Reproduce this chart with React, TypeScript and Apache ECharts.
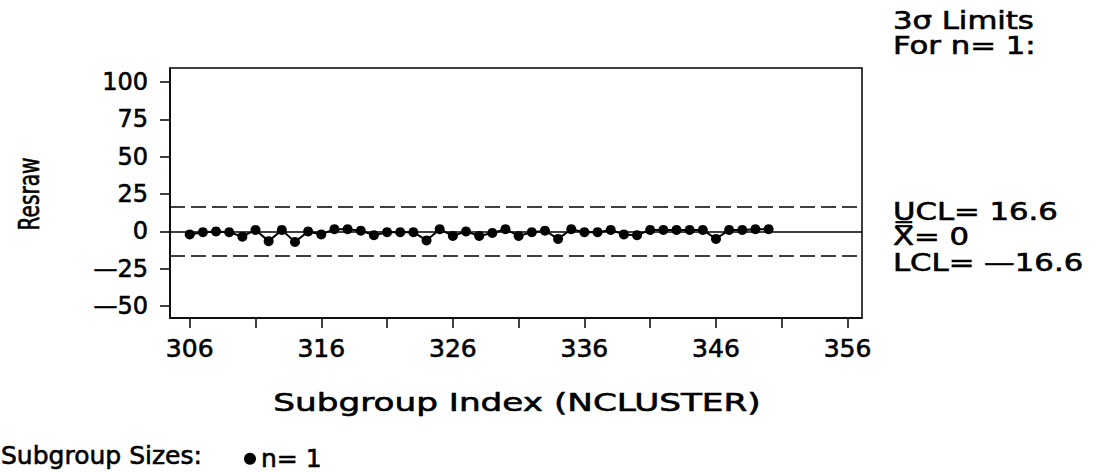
import React, { useEffect, useRef } from "react";
import * as echarts from "echarts";

const subgroupIndex = [
  306, 307, 308, 309, 310, 311, 312, 313, 314, 315, 316, 317, 318, 319, 320,
  321, 322, 323, 324, 325, 326, 327, 328, 329, 330, 331, 332, 333, 334, 335,
  336, 337, 338, 339, 340, 341, 342, 343, 344, 345, 346, 347, 348, 349, 350,
];
const resraw = [
  -2, -0.5, 0, -0.5, -3.5, 1, -6.5, 1, -7, 0, -2, 1.5, 1.5, 0.5, -2.5,
  -0.5, -0.5, -0.5, -6, 1.5, -3, 0, -3, -1, 1.5, -3, -0.5, 0.5, -5, 1.5,
  -0.5, -0.5, 1, -2, -2.5, 1, 1, 1, 1, 1, -5, 1, 1, 1.5, 1.5,
];
const ucl = 16.6;
const centerValue = 0;
const lcl = -16.6;
const yTickValues = [-50, -25, 0, 25, 50, 75, 100];
const xTickValues = [306, 311, 316, 321, 326, 331, 336, 341, 346, 351, 356];
const xLabelValues = [306, 316, 326, 336, 346, 356];
const rightLabels = ["3\u03C3 Limits", "For n= 1:", "UCL= 16.6", "X\u033F= 0", "LCL= \u201416.6"];
const rightLabelY = [20, 45, 211, 236, 262];

const FONT = "'DejaVu Sans', 'Noto Sans', sans-serif";
const BLACK = "#000";

export default function App() {
  const ref = useRef<HTMLDivElement>(null);
  useEffect(() => {
    document.body.style.margin = "0";
    const chart = echarts.init(ref.current as HTMLDivElement, null, { renderer: "svg" });
    const axisLine = { show: true, onZero: false, lineStyle: { color: BLACK, width: 1.5 } };
    const textBase = {
      fill: BLACK,
      fontFamily: FONT,
      fontSize: 24,
      lineHeight: 22,
      verticalAlign: "middle",
      stroke: BLACK,
      lineWidth: 0.6,
    };
    const labelStroke = { textBorderColor: BLACK, textBorderWidth: 0.6 };
    chart.setOption({
      animation: false,
      backgroundColor: "#fff",
      grid: {
        left: 170,
        top: 68,
        width: 692,
        height: 250,
        show: true,
        borderColor: BLACK,
        borderWidth: 1.5,
        backgroundColor: "transparent",
      },
      xAxis: {
        type: "value",
        min: 304.5,
        max: 357.1,
        axisLine,
        axisTick: { show: true, length: 10, customValues: xTickValues, lineStyle: { color: BLACK, width: 1.5 } },
        axisLabel: { customValues: xLabelValues, margin: 18, color: BLACK, fontFamily: FONT, fontSize: 25, ...labelStroke },
        splitLine: { show: false },
      },
      yAxis: {
        type: "value",
        min: -58,
        max: 109.5,
        axisLine,
        axisTick: { show: true, length: 10, customValues: yTickValues, lineStyle: { color: BLACK, width: 1.5 } },
        axisLabel: {
          customValues: yTickValues,
          margin: 22,
          color: BLACK,
          fontFamily: FONT,
          fontSize: 24,
          ...labelStroke,
          formatter: (v: number) => (v < 0 ? "\u2014" + Math.abs(v) : String(v)),
        },
        splitLine: { show: false },
      },
      legend: {
        show: true,
        left: 239,
        top: 441,
        icon: "circle",
        itemWidth: 12,
        itemHeight: 12,
        itemGap: 8,
        textStyle: { color: BLACK, fontFamily: FONT, fontSize: 25, ...labelStroke },
        data: ["n= 1"],
      },
      graphic: [
        {
          type: "text",
          x: 517,
          y: 402,
          scaleX: 1.37,
          style: { ...textBase, fontSize: 25, align: "center", text: "Subgroup Index (NCLUSTER)" },
        },
        {
          type: "text",
          x: 29,
          y: 194,
          rotation: Math.PI / 2,
          scaleX: 0.8,
          style: {
            ...textBase,
            fontFamily: "'DejaVu Sans Condensed', 'DejaVu Sans', sans-serif",
            fontSize: 28,
            align: "center",
            text: "Resraw",
          },
        },
        {
          type: "text",
          x: 1,
          y: 455,
          scaleX: 1.0,
          style: { ...textBase, fontSize: 25, text: "Subgroup Sizes:" },
        },
        ...rightLabels.map((t, i) => ({
          type: "text",
          x: 893,
          y: rightLabelY[i],
          scaleX: 1.28,
          style: { ...textBase, text: t },
        })),
      ],
      series: [
        {
          type: "line",
          name: "n= 1",
          data: subgroupIndex.map((x, i) => [x, resraw[i]]),
          symbol: "circle",
          symbolSize: 10,
          lineStyle: { color: BLACK, width: 2 },
          itemStyle: { color: BLACK },
          markLine: {
            silent: true,
            symbol: "none",
            label: { show: false },
            data: [
              { yAxis: ucl, lineStyle: { type: [15, 6], color: BLACK, width: 1.5 } },
              { yAxis: centerValue, lineStyle: { type: "solid", color: BLACK, width: 1.5 } },
              { yAxis: lcl, lineStyle: { type: [15, 6], color: BLACK, width: 1.5 } },
            ],
          },
        },
      ],
    });
    return () => chart.dispose();
  }, []);
  return <div ref={ref} style={{ position: "fixed", left: 0, top: 0, width: 1097, height: 472 }} />;
}
